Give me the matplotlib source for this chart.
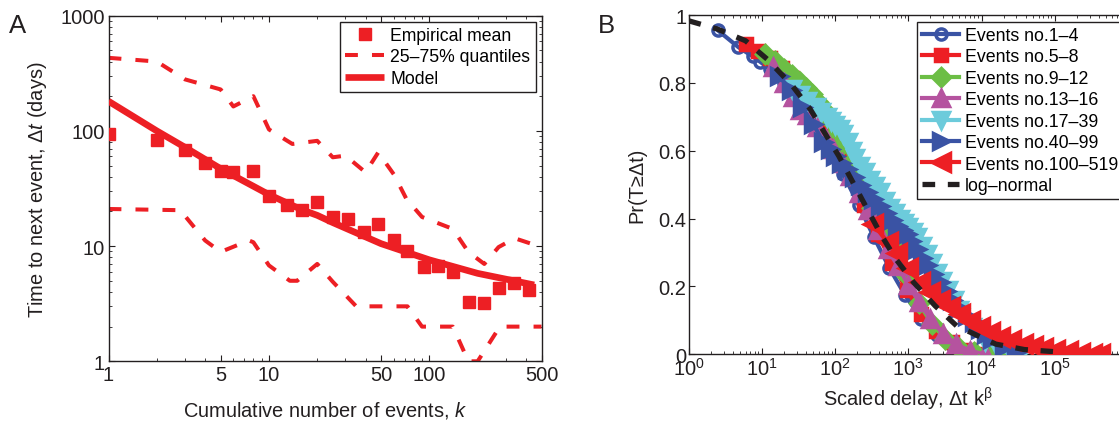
import matplotlib
matplotlib.use("Agg")
import matplotlib.pyplot as plt
from matplotlib.ticker import (FixedLocator, NullFormatter, LogLocator, FixedFormatter,
                               LogFormatterSciNotation)

plt.rcParams['font.family'] = ['Liberation Sans', 'DejaVu Sans']
plt.rcParams['mathtext.fontset'] = 'custom'
plt.rcParams['mathtext.rm'] = 'Liberation Sans'
plt.rcParams['mathtext.it'] = 'Liberation Sans:italic'
plt.rcParams['mathtext.bf'] = 'Liberation Sans:bold'

# ---------------- Panel A data ----------------
k_mean = [1, 2, 3, 4, 5, 6, 8, 10, 13, 16, 20, 25, 31, 39, 48, 60, 73, 92, 114, 141, 177, 219, 271, 337, 418]
dt_mean = [93.6, 83, 68.5, 52.5, 44.5, 43.6, 45, 27.4, 22.8, 20.7, 24.3, 17.8, 17.2, 13.2, 15.4, 11.4, 9.1, 6.6, 6.7, 6.0, 3.3, 3.2, 4.3, 4.8, 4.2]

k_upper = [1, 2, 3, 5, 6, 8, 10, 14, 20, 25, 30, 40, 48, 60, 72, 90, 140, 175, 220, 270, 340, 500]
q_upper = [431, 400, 280, 229, 163, 200, 103, 77, 82, 59, 61, 43.7, 65, 42, 25.6, 17.9, 14.1, 8.9, 7.0, 9.8, 11.7, 9.8]

k_lower = [1, 2.8, 4, 5, 7.5, 8, 10, 13.5, 15, 20, 25, 35, 73, 90, 140, 175, 200, 275, 500]
q_lower = [21, 20.5, 11.2, 8.9, 11.2, 10.8, 6.8, 5.0, 5.0, 7.0, 4.9, 3.0, 3.0, 2.0, 2.0, 1.0, 1.0, 2.0, 2.0]

k_model = [1, 2, 3, 5, 10, 16, 20, 25, 50, 100, 200, 450]
dt_model = [181, 100, 72, 47, 28, 20.7, 18.5, 16, 10.5, 7.6, 5.8, 4.6]

a_xticks = [1, 5, 10, 50, 100, 500]
a_xticklabels = ['1', '5', '10', '50', '100', '500']
a_yticks = [1, 10, 100, 1000]
a_yticklabels = ['1', '10', '100', '1000']

# ---------------- Panel B data ----------------
s1_x = [2.5, 4.8, 7.5, 9.5, 13, 20, 32, 50, 80, 130, 210, 340, 550, 900, 1500, 2500, 4000, 6500, 11000, 18000]
s1_y = [0.955, 0.905, 0.878, 0.862, 0.84, 0.80, 0.745, 0.68, 0.60, 0.53, 0.44, 0.345, 0.255, 0.175, 0.105, 0.058, 0.028, 0.012, 0.004, 0.0]

s2_x = [6, 9, 13, 19, 26, 38, 55, 80, 115, 170, 250, 380, 600, 950, 1500, 2400, 4000, 7000, 12000]
s2_y = [0.915, 0.895, 0.872, 0.845, 0.815, 0.77, 0.72, 0.665, 0.60, 0.52, 0.44, 0.355, 0.27, 0.19, 0.12, 0.07, 0.035, 0.012, 0.0]

s3_x = [11, 15, 20, 26, 33, 40, 48, 58, 70, 85, 105, 130, 170, 230, 320, 450, 650, 950, 1400, 2100, 3200, 5000, 8000, 13000, 20000]
s3_y = [0.885, 0.865, 0.842, 0.822, 0.804, 0.785, 0.768, 0.745, 0.72, 0.69, 0.655, 0.62, 0.57, 0.50, 0.43, 0.36, 0.32, 0.23, 0.15, 0.09, 0.045, 0.02, 0.006, 0.001, 0.0]

s4_x = [14, 20, 27, 33, 41, 56, 75, 95, 125, 160, 210, 280, 380, 520, 720, 1000, 1400, 2000, 3000, 4500, 7000, 11000]
s4_y = [0.846, 0.80, 0.757, 0.72, 0.705, 0.669, 0.635, 0.605, 0.565, 0.526, 0.475, 0.425, 0.365, 0.31, 0.26, 0.205, 0.155, 0.105, 0.06, 0.03, 0.01, 0.0]

s5_x = [26, 33, 42, 55, 65, 77, 88, 100, 115, 129, 150, 170, 190, 219, 255, 300, 350, 410, 480, 560, 660, 775, 880,
        1000, 1150, 1318, 1550, 1800, 2100, 2450, 2900, 3500, 4200, 5000, 7500, 11000, 17000, 25000, 35000]
s5_y = [0.782, 0.765, 0.748, 0.728, 0.715, 0.70, 0.688, 0.675, 0.665, 0.648, 0.625, 0.60, 0.578, 0.556, 0.536, 0.515,
        0.496, 0.477, 0.453, 0.43, 0.415, 0.40, 0.388, 0.375, 0.36, 0.345, 0.32, 0.295, 0.268, 0.24, 0.215, 0.19,
        0.16, 0.13, 0.08, 0.04, 0.015, 0.004, 0.0]

s6_x = [17, 25, 35, 50, 69, 84, 100, 120, 145, 180, 220, 270, 333, 410, 500, 600, 700, 820, 955, 1100, 1300, 1550,
        1800, 2200, 2700, 3300, 4000, 5000, 6300, 7800, 9500, 11500, 14000, 20000, 30000]
s6_y = [0.82, 0.78, 0.73, 0.68, 0.625, 0.605, 0.585, 0.565, 0.546, 0.522, 0.50, 0.478, 0.458, 0.437, 0.415, 0.397,
        0.379, 0.367, 0.355, 0.333, 0.31, 0.285, 0.262, 0.237, 0.212, 0.186, 0.16, 0.137, 0.114, 0.094, 0.075, 0.06,
        0.045, 0.022, 0.008]

s7_x = [333, 520, 700, 1000, 1450, 2000, 2700, 3700, 5100, 7000, 9500, 13000, 18000, 25000, 37000, 50000, 70000,
        100000, 150000, 220000, 320000, 420000]
s7_y = [0.384, 0.33, 0.30, 0.255, 0.212, 0.185, 0.16, 0.138, 0.118, 0.098, 0.08, 0.065, 0.052, 0.041, 0.031, 0.024,
        0.018, 0.013, 0.009, 0.005, 0.002, 0.0]

ln_x = [1, 2.45, 6.0, 11.8, 26, 45.6, 71.4, 112, 175, 275, 431, 675, 1184, 2323, 4560, 15670, 38460, 94600]
ln_y = [0.983, 0.959, 0.924, 0.870, 0.792, 0.723, 0.654, 0.585, 0.507, 0.428, 0.350, 0.281, 0.212, 0.143, 0.084, 0.030, 0.014, 0.008]

b_labels = ['Events no.1\u20134', 'Events no.5\u20138', 'Events no.9\u201312', 'Events no.13\u201316',
            'Events no.17\u201339', 'Events no.40\u201399', 'Events no.100\u2013519']
b_xticks = [1, 10, 100, 1000, 10000, 100000]
b_yticks = [0, 0.2, 0.4, 0.6, 0.8, 1]
b_yticklabels = ['0', '0.2', '0.4', '0.6', '0.8', '1']

RED = '#ed1f24'
BLUE = '#3a53a4'
GREEN = '#6cbe45'
MAGENTA = '#b5539f'
CYAN = '#6ccbdb'
BLACK = '#231f20'
SPINE = '#231f20'

W, H = 1119, 427
fig = plt.figure(figsize=(W / 100, H / 100), dpi=100)

def style_axes(ax):
    for sp in ax.spines.values():
        sp.set_color(SPINE)
        sp.set_linewidth(1.0)
    ax.tick_params(which='both', direction='in', top=True, right=True, colors=SPINE,
                   labelcolor=BLACK, labelsize=14.5)
    ax.tick_params(which='major', length=4, width=0.8)
    ax.tick_params(which='minor', length=2.2, width=0.6)

# ---------------- Panel A ----------------
axA = fig.add_axes([108.5 / W, 1 - 362.3 / H, 433 / W, 345.6 / H])
axA.set_xscale('log')
axA.set_yscale('log')
axA.plot(k_upper, q_upper, color=RED, lw=2.9, ls=(0, (3.2, 3.5)), zorder=2)
axA.plot(k_lower, q_lower, color=RED, lw=2.9, ls=(0, (3.2, 3.5)), zorder=2,
         label='25\u201375% quantiles')
axA.plot(k_model, dt_model, color=RED, lw=4.8, solid_capstyle='butt', zorder=3, label='Model')
axA.plot(k_mean, dt_mean, ls='none', marker='s', ms=8.5, color=RED, mec=RED, zorder=4,
         label='Empirical mean')
axA.set_xlim(1, 500)
axA.set_ylim(1, 1000)
style_axes(axA)
axA.tick_params(axis='both', pad=2.5)
axA.xaxis.set_major_locator(FixedLocator(a_xticks))
axA.xaxis.set_major_formatter(FixedFormatter(a_xticklabels))
axA.xaxis.set_minor_locator(LogLocator(base=10, subs=[2, 3, 4, 6, 7, 8, 9]))
axA.xaxis.set_minor_formatter(NullFormatter())
axA.yaxis.set_major_locator(FixedLocator(a_yticks))
axA.yaxis.set_major_formatter(FixedFormatter(a_yticklabels))
axA.yaxis.set_minor_locator(LogLocator(base=10, subs=[2, 3, 4, 5, 6, 7, 8, 9]))
axA.yaxis.set_minor_formatter(NullFormatter())
axA.set_xlabel('Cumulative number of events, $k$', fontsize=14.4, color=BLACK, labelpad=11)
axA.set_ylabel('Time to next event, \u0394$t$ (days)', fontsize=14.4, color=BLACK, labelpad=8)

h, l = axA.get_legend_handles_labels()
order = [2, 0, 1]
legA = axA.legend([h[i] for i in order], [l[i] for i in order], loc='upper left',
                  bbox_to_anchor=((340 - 108.5) / 433, (362.3 - 22.7) / 345.6),
                  fontsize=12.7, frameon=True, fancybox=False, framealpha=1,
                  edgecolor=BLACK, handlelength=2.2, handletextpad=0.35,
                  borderpad=0.3, labelspacing=0.25, borderaxespad=0)
legA.get_frame().set_linewidth(1.0)

fig.text(9 / W, 1 - 33 / H, 'A', fontsize=18.5, color=BLACK, va='baseline')

# ---------------- Panel B ----------------
axB = fig.add_axes([688.6 / W, 1 - 355.3 / H, 439.4 / W, 339.3 / H])
axB.set_xscale('log')
series = [
    (s1_x, s1_y, BLUE, 'o', 8, 'none'),
    (s2_x, s2_y, RED, 's', 9, RED),
    (s3_x, s3_y, GREEN, 'D', 9, GREEN),
    (s4_x, s4_y, MAGENTA, '^', 12, MAGENTA),
    (s5_x, s5_y, CYAN, 'v', 12, CYAN),
    (s6_x, s6_y, BLUE, '>', 12, BLUE),
    (s7_x, s7_y, RED, '<', 13, RED),
]
for (xs, ys, c, m, ms, mfc), lab in zip(series, b_labels):
    axB.plot(xs, ys, color=c, lw=3, marker=m, ms=ms, mfc=mfc, mec=c, mew=2.5, label=lab,
             zorder=3)
axB.plot(ln_x, ln_y, color=BLACK, lw=3.8, ls=(0, (2.4, 2.4)), label='log\u2013normal', zorder=5)
axB.set_xlim(1, 1e6)
axB.set_ylim(0, 1)
style_axes(axB)
axB.tick_params(axis='both', pad=2)
axB.tick_params(axis='y', pad=1.5)
axB.xaxis.set_major_locator(FixedLocator(b_xticks))
axB.xaxis.set_major_formatter(LogFormatterSciNotation())
axB.xaxis.set_minor_locator(LogLocator(base=10, subs=[2, 3, 4, 5, 6, 7, 8, 9], numticks=20))
axB.xaxis.set_minor_formatter(NullFormatter())
axB.yaxis.set_major_locator(FixedLocator(b_yticks))
axB.yaxis.set_major_formatter(FixedFormatter(b_yticklabels))
axB.set_xlabel('Scaled delay, \u0394t k$^{\\mathrm{\u03b2}}$', fontsize=14.4, color=BLACK, labelpad=4)
axB.set_ylabel('Pr(T\u2265\u0394t)', fontsize=14.4, color=BLACK, labelpad=9)

legB = axB.legend(loc='upper left',
                  bbox_to_anchor=((916.7 - 688.6) / 439.4, (355.3 - 22.7) / 339.3),
                  fontsize=12.8, frameon=True, fancybox=False, framealpha=1,
                  edgecolor=BLACK, handlelength=2.1, handletextpad=0.3,
                  borderpad=0.3, labelspacing=0.25, borderaxespad=0, markerscale=1.0)
legB.get_frame().set_linewidth(1.0)

fig.text(598 / W, 1 - 33 / H, 'B', fontsize=18.5, color=BLACK, va='baseline')

fig.savefig('out.png', dpi=100)
